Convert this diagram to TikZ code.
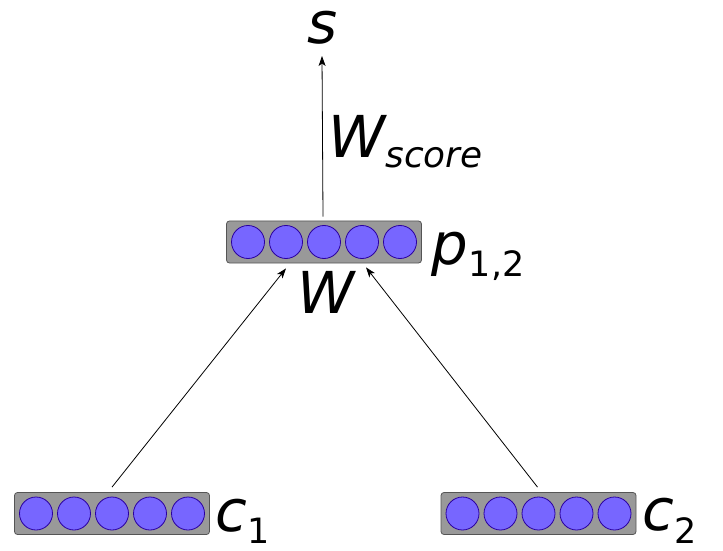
\documentclass[tikz,border=0pt]{standalone}
\usepackage{fontspec}
\setmainfont{DejaVu Sans}
\usetikzlibrary{arrows.meta,calc}
\definecolor{boxfill}{HTML}{999999}
\definecolor{boxedge}{HTML}{555555}
\definecolor{unitfill}{HTML}{7766FF}
\definecolor{unitedge}{HTML}{2A00A0}
\newcommand{\bigit}{\fontsize{58}{58}\selectfont\itshape}
\newcommand{\subup}{\fontsize{35}{35}\selectfont\upshape}
\newcommand{\subit}{\fontsize{36}{36}\selectfont\itshape}
\begin{document}
\begin{tikzpicture}[x=1bp,y=-1bp,
 vecbox/.style={draw=boxedge, fill=boxfill, line width=0.8bp, rounded corners=3bp, minimum width=195bp, minimum height=42bp, inner sep=0pt},
 unit/.style={circle, draw=unitedge, fill=unitfill, line width=0.8bp, minimum size=33bp, inner sep=0pt},
 conn/.style={line width=0.8bp, -{Stealth[length=10bp,width=7bp,inset=2.5bp]}},
 lbl/.style={inner sep=0pt, font=\bigit}]
\useasboundingbox (0,0) rectangle (723,551);
% vectors
\node[vecbox] (p) at (324,242) {};
\node[vecbox] (c1) at (112,513.5) {};
\node[vecbox] (c2) at (538.5,513.5) {};
\foreach \b in {p,c1,c2}{
  \foreach \i/\dx in {1/-76,2/-38,3/0,4/38,5/76}{
    \node[unit] (\b-u\i) at ($(\b)+(\dx,0)$) {};
  }
}
% labels
\node[lbl, anchor=base] (s) at (323,44) {s};
\node[lbl, anchor=base west] (wscore) at (328,158) {W\raisebox{-10bp}{\subit score}};
\node[lbl, anchor=base] (w) at (326,313) {W};
\node[lbl, anchor=base west] (plbl) at (431,265) {p\kern1bp\raisebox{-12bp}{\subup 1,2}};
\node[lbl, anchor=base west] (c1lbl) at (215,531) {c\kern1bp\raisebox{-12bp}{\subup 1}};
\node[lbl, anchor=base west] (c2lbl) at (642,530) {c\kern1bp\raisebox{-13bp}{\subup 2}};
% connectors
\draw[conn] ($(c1.north)+(0,-5)$) -- ($(p.south)+(-38,5)$);
\draw[conn] ($(c2.north)+(-1,-5)$) -- ($(p.south)+(42,4)$);
\draw[conn] ($(p.north)+(-1,-4)$) -- ($(s.base)+(-1,12)$);
\end{tikzpicture}
\end{document}
